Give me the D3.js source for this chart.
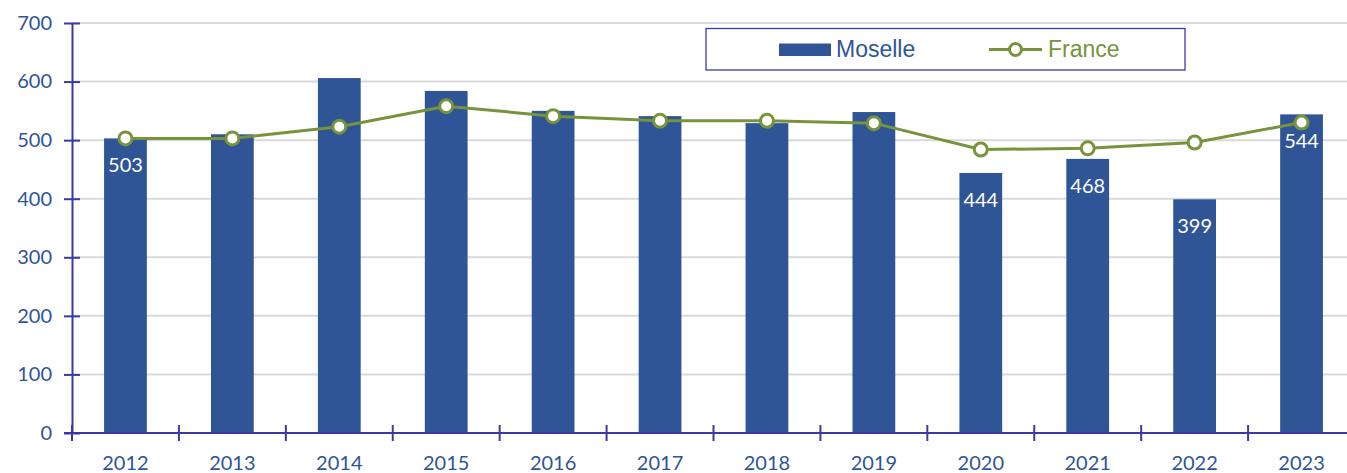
<!DOCTYPE html>
<html>
<head>
<meta charset="utf-8">
<script src="https://cdn.jsdelivr.net/npm/d3@7"></script>
<style>
  body { margin: 0; background: #fff; }
  svg { display: block; }
</style>
</head>
<body>
<svg width="1347" height="473"></svg>
<script>
var years = ["2012", "2013", "2014", "2015", "2016", "2017", "2018", "2019", "2020", "2021", "2022", "2023"];
var moselle = [503, 510, 606, 584, 550, 541, 529, 548, 444, 468, 399, 544];
var france = [503, 503, 523, 558, 541, 533, 533, 529, 484, 486, 496, 530];
var labelled = ["2012", "2020", "2021", "2022", "2023"];
var yTicks = [0, 100, 200, 300, 400, 500, 600, 700];

var svg = d3.select("svg");
var axisColor = "#3a3aa0";
var textColor = "#2f5597";
var barColor = "#2f5597";
var lineColor = "#77933c";
var tickFont = "Lato, 'Open Sans', sans-serif";

var plotLeft = 72, plotRight = 1355, plotTop = 23, plotBottom = 433;

var x = d3.scaleBand().domain(years).range([plotLeft, plotRight]).paddingInner(0.6).paddingOuter(0.3);
var xb = d3.scaleBand().domain(years).range([plotLeft, plotRight]);
var y = d3.scaleLinear().domain([0, 700]).range([plotBottom, plotTop]);

// gridlines
svg.append("g")
   .selectAll("line")
   .data(yTicks.slice(1))
   .enter()
   .append("line")
   .attr("x1", plotLeft)
   .attr("x2", 1347)
   .attr("y1", function(d) { return y(d); })
   .attr("y2", function(d) { return y(d); })
   .attr("stroke", "#d9d9d9")
   .attr("stroke-width", 2);

// bars
svg.append("g")
   .selectAll("rect")
   .data(years)
   .enter()
   .append("rect")
   .attr("x", function(d) { return x(d); })
   .attr("width", x.bandwidth())
   .attr("y", function(d, i) { return y(moselle[i]); })
   .attr("height", function(d, i) { return y(0) - y(moselle[i]); })
   .attr("fill", barColor);

// bar labels
svg.append("g")
   .selectAll("text")
   .data(years.filter(function(d) { return labelled.indexOf(d) >= 0; }))
   .enter()
   .append("text")
   .attr("x", function(d) { return x(d) + x.bandwidth() / 2; })
   .attr("y", function(d) { return y(moselle[years.indexOf(d)]) + 34; })
   .attr("text-anchor", "middle")
   .attr("fill", "#fff")
   .style("font-family", tickFont)
   .style("font-size", "20px")
   .text(function(d) { return moselle[years.indexOf(d)]; });

// france line
var line = d3.line()
   .x(function(d, i) { return x(years[i]) + x.bandwidth() / 2; })
   .y(function(d) { return y(d); });

svg.append("path")
   .datum(france)
   .attr("d", line)
   .attr("fill", "none")
   .attr("stroke", lineColor)
   .attr("stroke-width", 3);

svg.append("g")
   .selectAll("circle")
   .data(france)
   .enter()
   .append("circle")
   .attr("cx", function(d, i) { return x(years[i]) + x.bandwidth() / 2; })
   .attr("cy", function(d) { return y(d); })
   .attr("r", 6.5)
   .attr("fill", "#fff")
   .attr("stroke", lineColor)
   .attr("stroke-width", 3);

// y axis
var yAxis = svg.append("g")
   .attr("transform", "translate(" + plotLeft + ",0)")
   .call(d3.axisLeft(y).tickValues(yTicks).tickSize(0).tickPadding(20));
yAxis.select(".domain").attr("stroke", axisColor).attr("stroke-width", 2);
yAxis.selectAll(".tick line")
   .attr("x1", -8).attr("x2", 8)
   .attr("stroke", axisColor).attr("stroke-width", 2);
yAxis.selectAll("text")
   .attr("fill", textColor)
   .style("font-family", tickFont)
   .style("font-size", "20px");

// x axis
var xAxis = svg.append("g").attr("transform", "translate(0," + plotBottom + ")");
xAxis.append("line")
   .attr("x1", plotLeft - 8).attr("x2", 1347)
   .attr("stroke", axisColor).attr("stroke-width", 2);
xAxis.selectAll("line.tk")
   .data(years.concat(["end"]))
   .enter()
   .append("line")
   .attr("class", "tk")
   .attr("x1", function(d, i) { return plotLeft + i * xb.bandwidth(); })
   .attr("x2", function(d, i) { return plotLeft + i * xb.bandwidth(); })
   .attr("y1", -8).attr("y2", 8)
   .attr("stroke", axisColor).attr("stroke-width", 2);
xAxis.selectAll("text")
   .data(years)
   .enter()
   .append("text")
   .attr("x", function(d) { return xb(d) + xb.bandwidth() / 2; })
   .attr("y", 37)
   .attr("text-anchor", "middle")
   .attr("fill", textColor)
   .style("font-family", tickFont)
   .style("font-size", "20px")
   .text(function(d) { return d; });

// legend
var legend = svg.append("g");
legend.append("rect")
   .attr("x", 706).attr("y", 28.5)
   .attr("width", 479).attr("height", 41.5)
   .attr("fill", "#fff")
   .attr("stroke", "#3b3bab").attr("stroke-width", 1.3);
legend.append("rect")
   .attr("x", 779).attr("y", 43.5)
   .attr("width", 52).attr("height", 12.5)
   .attr("fill", barColor);
legend.append("text")
   .attr("x", 836).attr("y", 57)
   .attr("fill", textColor)
   .style("font-family", "'Liberation Sans', Arial, sans-serif")
   .style("font-size", "23px")
   .text("Moselle");
legend.append("line")
   .attr("x1", 989).attr("x2", 1042)
   .attr("y1", 49.5).attr("y2", 49.5)
   .attr("stroke", lineColor).attr("stroke-width", 3);
legend.append("circle")
   .attr("cx", 1015.5).attr("cy", 49.5).attr("r", 6)
   .attr("fill", "#fff")
   .attr("stroke", lineColor).attr("stroke-width", 3);
legend.append("text")
   .attr("x", 1048).attr("y", 57)
   .attr("fill", lineColor)
   .style("font-family", "'Liberation Sans', Arial, sans-serif")
   .style("font-size", "23px")
   .text("France");
</script>
</body>
</html>
